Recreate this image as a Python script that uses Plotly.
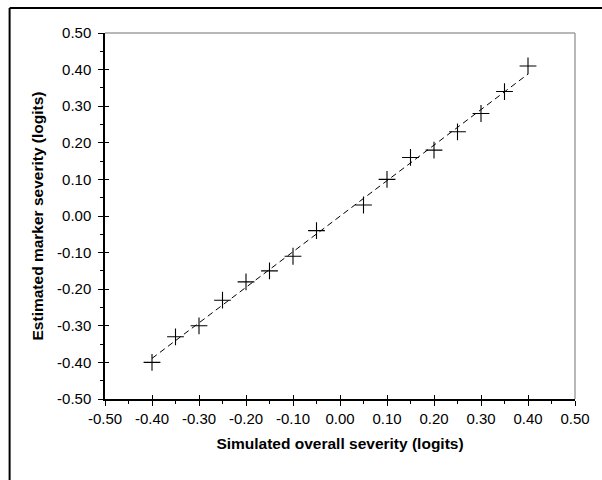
import numpy as np
import plotly.graph_objects as go

simulated = [-0.40, -0.35, -0.30, -0.25, -0.20, -0.15, -0.10, -0.05,
             0.05, 0.10, 0.15, 0.20, 0.25, 0.30, 0.35, 0.40]
estimated = [-0.40, -0.33, -0.30, -0.23, -0.18, -0.15, -0.11, -0.04,
             0.03, 0.10, 0.16, 0.18, 0.23, 0.28, 0.34, 0.41]
tick_vals = [-0.5, -0.4, -0.3, -0.2, -0.1, 0.0, 0.1, 0.2, 0.3, 0.4, 0.5]
tick_text = ["-0.50", "-0.40", "-0.30", "-0.20", "-0.10", "0.00",
             "0.10", "0.20", "0.30", "0.40", "0.50"]
x_title = "Simulated overall severity (logits)"
y_title = "Estimated marker severity (logits)"

W, H = 602, 480
L, R, T, B = 105, 24, 33, 81
pw, ph = W - L - R, H - T - B


def px(x):
    return (x - L) / pw


def py(y):
    return (H - B - y) / ph


slope, intercept = np.polyfit(simulated, estimated, 1)
fit_x = [min(simulated), max(simulated)]
fit_y = [slope * v + intercept for v in fit_x]

font = "Liberation Sans, Arial, sans-serif"

fig = go.Figure()
fig.add_trace(go.Scatter(x=fit_x, y=fit_y, mode="lines",
                         line=dict(color="black", width=1, dash="6px,4px"),
                         hoverinfo="skip", showlegend=False))
fig.add_trace(go.Scatter(x=simulated, y=estimated, mode="markers",
                         marker=dict(symbol="cross-thin", size=12,
                                     line=dict(color="black", width=1.1)),
                         showlegend=False))
fig.add_trace(go.Scatter(x=[0], y=[0], xaxis="x2", yaxis="y2", mode="markers",
                         marker=dict(opacity=0), hoverinfo="skip", showlegend=False))

axis_common = dict(range=[-0.5, 0.5], tickvals=tick_vals, ticktext=tick_text,
                   showgrid=False, zeroline=False, showline=True,
                   linecolor="black", linewidth=1.5,
                   ticks="outside", ticklen=5, tickwidth=1.2, tickcolor="black",
                   tickfont=dict(family=font, size=15, color="black"),
                   minor=dict(ticks="outside", ticklen=3, tickwidth=1,
                              tickcolor="black", dtick=0.05, tick0=0.05,
                              showgrid=False))

fig.update_layout(
    width=W, height=H,
    margin=dict(l=L, r=R, t=T, b=B),
    paper_bgcolor="white", plot_bgcolor="white",
    xaxis=dict(**axis_common, ticklabelstandoff=0,
               title=dict(text=f"<b>{x_title}</b>", standoff=12,
                          font=dict(family=font, size=15.5, color="black"))),
    yaxis=dict(**axis_common, ticklabelstandoff=4,
               title=dict(text=f"<b>{y_title}</b>", standoff=10,
                          font=dict(family=font, size=15.5, color="black"))),
    xaxis2=dict(range=[-0.5, 0.5], tickvals=tick_vals, overlaying="x",
                anchor="y2", side="bottom", showgrid=False, zeroline=False,
                showline=False, ticks="inside", ticklen=4, tickwidth=1.2,
                tickcolor="black", showticklabels=False),
    yaxis2=dict(range=[-0.5, 0.5], tickvals=tick_vals, overlaying="y",
                anchor="x2", side="left", showgrid=False, zeroline=False,
                showline=False, ticks="inside", ticklen=4, tickwidth=1.2,
                tickcolor="black", showticklabels=False),
    shapes=[
        dict(type="line", xref="paper", yref="paper", x0=0, x1=1, y0=1, y1=1,
             line=dict(color="#a0a0a0", width=1.5)),
        dict(type="line", xref="paper", yref="paper", x0=1, x1=1, y0=0, y1=1,
             line=dict(color="#a0a0a0", width=1.5)),
        dict(type="line", xref="paper", yref="paper", x0=px(9), x1=px(9),
             y0=py(8), y1=py(H + 5), line=dict(color="black", width=2)),
        dict(type="line", xref="paper", yref="paper", x0=px(9), x1=px(W + 5),
             y0=py(8), y1=py(8), line=dict(color="black", width=2)),
    ],
)

fig.write_html("out.html",
               config={"displayModeBar": False},
               post_script="document.body.style.margin='0';"
                           "document.body.style.overflow='hidden';")
